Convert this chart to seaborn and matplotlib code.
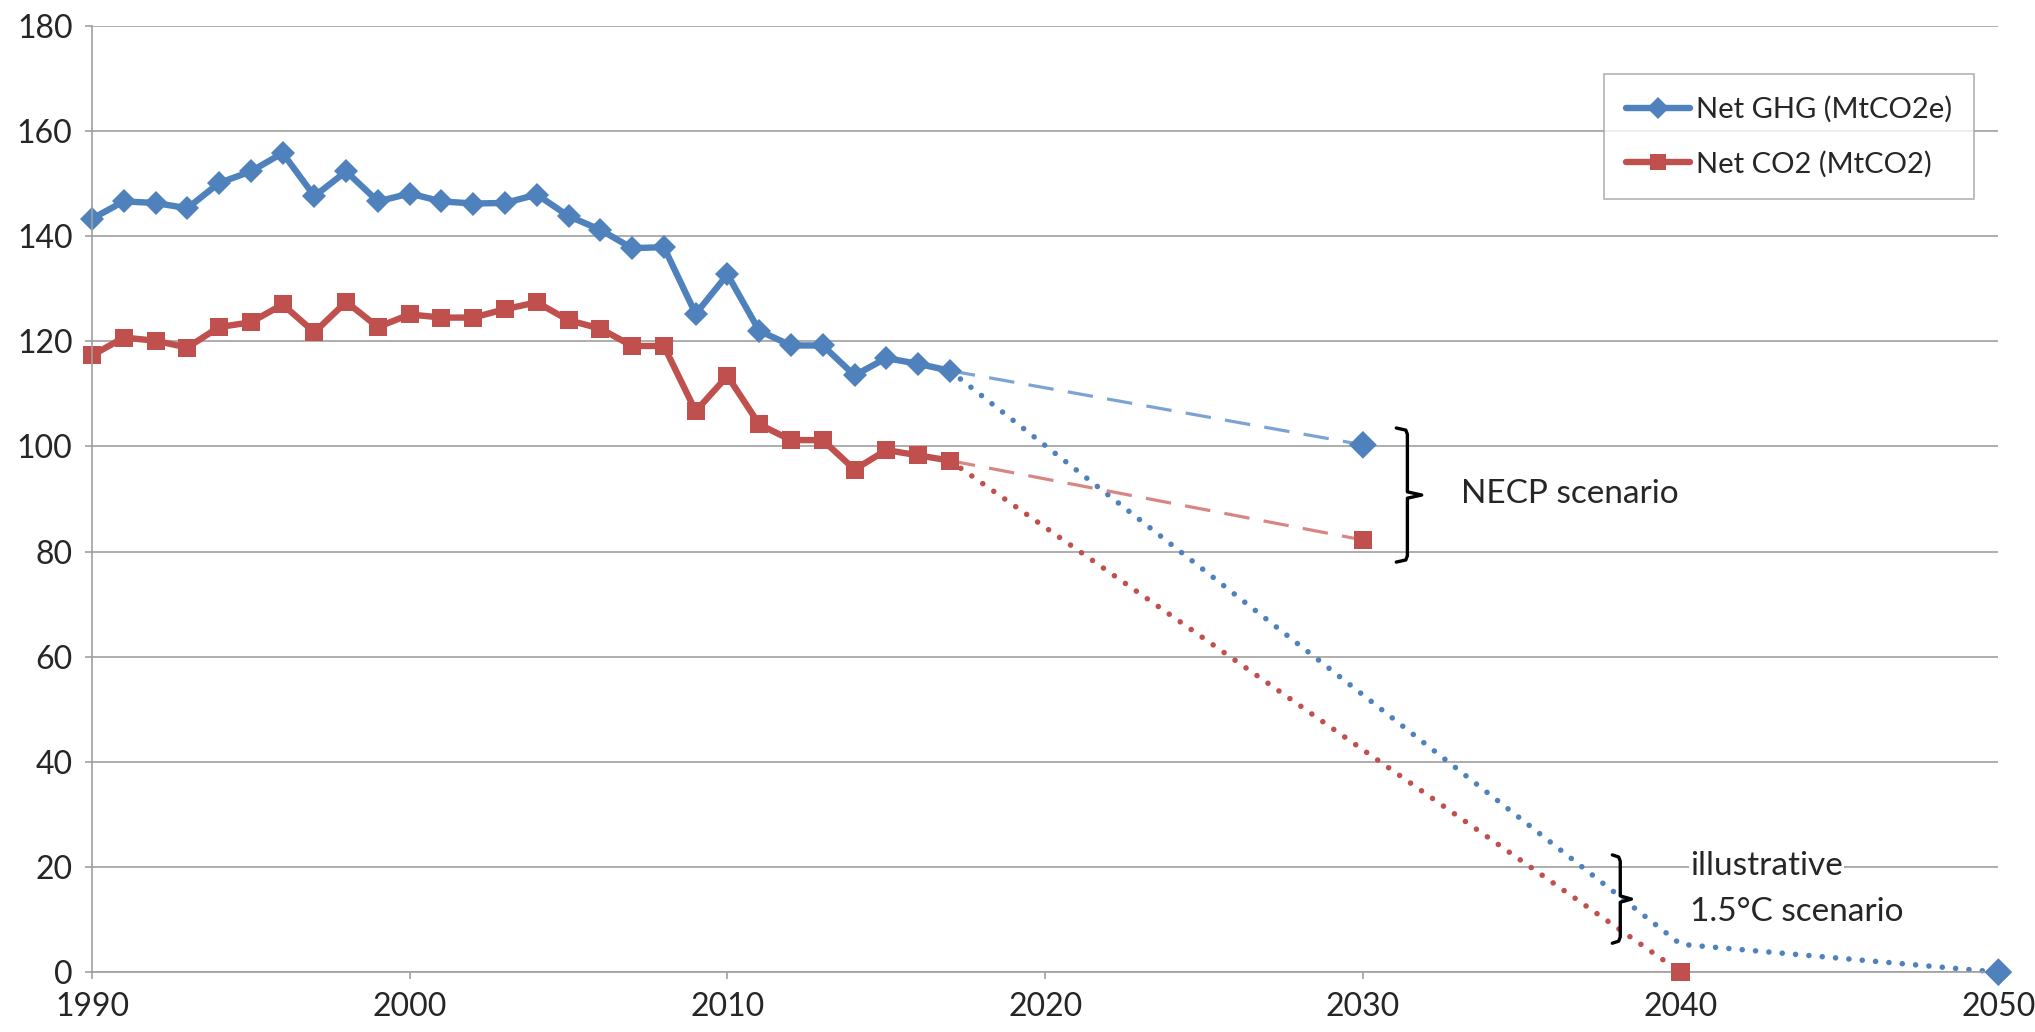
import numpy as np
import pandas as pd
import seaborn as sns
import matplotlib.pyplot as plt
from matplotlib.lines import Line2D

# datos historicos
years = list(range(1990, 2018))
ghg = [143.3, 146.6, 146.3, 145.3, 150.1, 152.3, 155.8, 147.6, 152.3, 146.6,
       148.1, 146.6, 146.2, 146.3, 147.9, 143.8, 141.2, 137.7, 137.9, 125.2,
       132.7, 122.0, 119.2, 119.2, 113.5, 116.8, 115.7, 114.4]
co2 = [117.3, 120.7, 120.1, 118.8, 122.7, 123.6, 127.0, 121.7, 127.5, 122.7,
       125.1, 124.5, 124.5, 126.1, 127.4, 124.0, 122.4, 119.1, 119.1, 106.7,
       113.4, 104.2, 101.2, 101.2, 95.6, 99.3, 98.3, 97.3]

# escenarios
necp_years = [2017, 2030]
ghg_necp = [ghg[-1], 100.3]
co2_necp = [co2[-1], 82.2]
ghg_15_years = [2017, 2040, 2050]
ghg_15 = [ghg[-1], 5.3, 0.0]
co2_15_years = [2017, 2040]
co2_15 = [co2[-1], 0.0]

labels = ['Net GHG (MtCO2e)', 'Net CO2 (MtCO2)']
blue = '#4F81BD'
red = '#C0504D'
blue_light = '#7CA3D4'
red_light = '#D88683'

sns.set_style('white')
plt.rcParams['font.family'] = ['Lato', 'DejaVu Sans']

fig, ax = plt.subplots(figsize=(20.35, 10.32), dpi=100)
fig.subplots_adjust(left=0.0452, right=0.982, top=0.975, bottom=0.058)

hist = pd.DataFrame({'year': years * 2,
                     'value': ghg + co2,
                     'series': [labels[0]] * len(years) + [labels[1]] * len(years)})

# lineas punteadas 1.5C
for yrs, vals, col in [(ghg_15_years, ghg_15, blue), (co2_15_years, co2_15, red)]:
    sns.lineplot(x=yrs, y=vals, ax=ax, color=col, linewidth=4.0,
                 linestyle=(0, (0.01, 2.4)), dash_capstyle='round', clip_on=False)

# lineas discontinuas NECP
for vals, col in [(ghg_necp, blue_light), (co2_necp, red_light)]:
    sns.lineplot(x=necp_years, y=vals, ax=ax, color=col, linewidth=2.3,
                 linestyle=(0, (8, 4.5)))

# historico
sns.lineplot(data=hist, x='year', y='value', hue='series', style='series',
             palette=[blue, red], markers=['D', 's'], dashes=False,
             markersize=12.5, markeredgewidth=0, linewidth=4.6, legend=False,
             ax=ax, clip_on=False)

# marcadores finales
sns.scatterplot(x=[necp_years[1], ghg_15_years[-1]], y=[ghg_necp[1], ghg_15[-1]],
                marker='D', s=200, color=blue, edgecolor='none', ax=ax,
                clip_on=False, zorder=5)
sns.scatterplot(x=[necp_years[1], co2_15_years[-1]], y=[co2_necp[1], co2_15[-1]],
                marker='s', s=180, color=red, edgecolor='none', ax=ax,
                clip_on=False, zorder=5)


def brace(x, top, bottom, w=0.35, tip=0.45):
    mid = (top + bottom) / 2
    xs = [x - w, x - 0.05, x, x, x + tip, x, x, x - 0.05, x - w]
    ys = [top, top - 0.4, top - 1.2, mid + 0.6, mid, mid - 0.6, bottom + 1.2,
          bottom + 0.4, bottom]
    ax.plot(xs, ys, color='black', lw=2.4, solid_joinstyle='round', zorder=6)


brace(2031.4, 103.5, 78.0)
brace(2038.1, 22.3, 5.5, w=0.25, tip=0.35)

ax.text(2033.1, 91.0, 'NECP scenario', fontsize=24, va='center', ha='left')
ax.text(2040.3, 20.2, 'illustrative', fontsize=24, va='center', ha='left',
        bbox=dict(facecolor='white', edgecolor='none', pad=1), zorder=7)
ax.text(2040.3, 11.4, '1.5°C scenario', fontsize=24, va='center', ha='left',
        zorder=7)

ax.set_xlim(1990, 2050)
ax.set_ylim(0, 180)
ax.set_xticks(range(1990, 2051, 10))
ax.set_yticks(range(0, 181, 20))
ax.yaxis.grid(True, color='#A0A0A0', lw=1.2)
ax.xaxis.grid(False)
ax.set_xlabel('')
ax.set_ylabel('')
ax.tick_params(axis='both', labelsize=23, length=5, width=1.2, color='#A0A0A0',
               direction='out', pad=9)
ax.tick_params(axis='x', bottom=True)
ax.tick_params(axis='y', left=True)

for s in ['top', 'right']:
    ax.spines[s].set_visible(False)
ax.spines['left'].set_color('#A0A0A0')
ax.spines['bottom'].set_color('#A0A0A0')
ax.spines['left'].set_linewidth(1.2)
ax.spines['bottom'].set_linewidth(1.2)

handles = [Line2D([], [], color=blue, lw=4.6, marker='D', ms=11, mew=0),
           Line2D([], [], color=red, lw=4.6, marker='s', ms=11, mew=0)]
leg = ax.legend(handles, labels, loc='upper right', bbox_to_anchor=(0.987, 0.949),
                fontsize=21, frameon=True, fancybox=False, handlelength=2.2,
                handletextpad=0.2, labelspacing=0.95, borderpad=0.75,
                borderaxespad=0)
leg.get_frame().set_edgecolor('#A0A0A0')
leg.get_frame().set_linewidth(1.2)

plt.savefig('out.png', dpi=100)
